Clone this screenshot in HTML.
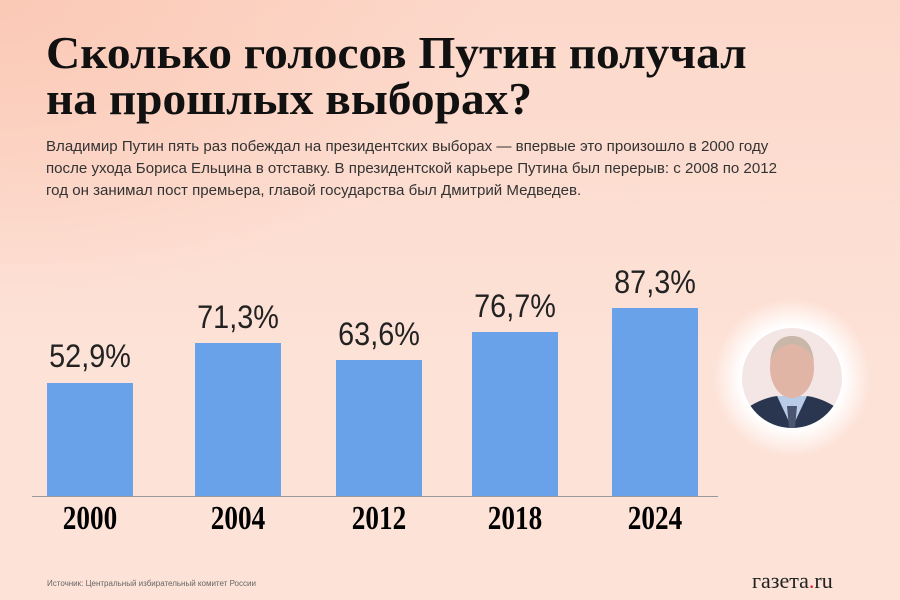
<!DOCTYPE html>
<html><head><meta charset="utf-8"><style>
body{margin:0;width:900px;height:600px;overflow:hidden;background:#fde0d4;font-family:"Liberation Sans",sans-serif;position:relative}
.bg{position:absolute;inset:0;background:radial-gradient(ellipse 500px 300px at 0 0,#fbc9b6,transparent),linear-gradient(#fcd8ca,#fde2d7 60%)}
h1{position:absolute;left:46px;top:30px;margin:0;font-family:"Liberation Serif",serif;font-weight:bold;font-size:46px;line-height:46px;color:#111;transform:scaleX(1.03);transform-origin:left}
.sub{position:absolute;left:46px;top:136px;font-size:14.5px;line-height:22px;color:#333;width:900px;transform:scaleX(1.04);transform-origin:left}
.bar{position:absolute;background:#6aa2ea;width:86px}
.v{position:absolute;width:140px;text-align:center;font-size:32px;color:#222;transform:scaleX(0.9)}
.y{position:absolute;width:140px;text-align:center;top:500px;font-family:"Liberation Serif",serif;font-weight:bold;font-size:34px;color:#000;transform:scaleX(0.8)}
.axis{position:absolute;left:32px;top:496px;width:686px;height:1px;background:#999}
.src{position:absolute;left:47px;top:579px;font-size:8px;color:#666}
.logo{position:absolute;left:752px;top:568px;font-family:"Liberation Serif",serif;font-size:22px;color:#222}
.glow{position:absolute;left:712px;top:298px;width:160px;height:160px;border-radius:50%;background:radial-gradient(circle,#fff 45%,rgba(255,255,255,0) 70%)}
.ph{position:absolute;left:742px;top:328px;width:100px;height:100px;border-radius:50%;overflow:hidden;background:#fff}
</style></head><body><div class="bg"></div>
<h1>Сколько голосов Путин получал<br>на прошлых выборах?</h1>
<div class="sub">Владимир Путин пять раз побеждал на президентских выборах — впервые это произошло в 2000 году<br>после ухода Бориса Ельцина в отставку. В президентской карьере Путина был перерыв: с 2008 по 2012<br>год он занимал пост премьера, главой государства был Дмитрий Медведев.</div>
<div class="bar" style="left:47px;top:383px;height:113px"></div>
<div class="bar" style="left:195px;top:343px;height:153px"></div>
<div class="bar" style="left:336px;top:360px;height:136px"></div>
<div class="bar" style="left:472px;top:332px;height:164px"></div>
<div class="bar" style="left:612px;top:308px;height:188px"></div>
<div class="axis"></div>
<div class="v" style="left:20px;top:338px">52,9%</div>
<div class="v" style="left:168px;top:299px">71,3%</div>
<div class="v" style="left:309px;top:316px">63,6%</div>
<div class="v" style="left:445px;top:288px">76,7%</div>
<div class="v" style="left:585px;top:264px">87,3%</div>
<div class="y" style="left:20px">2000</div>
<div class="y" style="left:168px">2004</div>
<div class="y" style="left:309px">2012</div>
<div class="y" style="left:445px">2018</div>
<div class="y" style="left:585px">2024</div>
<div class="glow"></div>
<div class="ph"><svg width="100" height="100">
<rect width="100" height="100" fill="#f3e6e4"/>
<path d="M0 100 L5 80 Q20 70 35 68 L65 68 Q80 70 95 80 L100 100Z" fill="#2a3550"/>
<path d="M35 68 L50 100 L65 68Z" fill="#b9cbe6"/>
<path d="M45 78 L55 78 L53 100 L47 100Z" fill="#4a5670"/>
<ellipse cx="50" cy="40" rx="22" ry="30" fill="#e0b5a5"/>
<path d="M28 35 Q30 8 50 8 Q70 8 72 35 Q68 18 50 16 Q32 18 28 35Z" fill="#c9b8aa"/>
</svg></div>
<div class="src">Источник: Центральный избирательный комитет России</div>
<div class="logo">газета<span style="color:#d22">.</span>ru</div>
</body></html>
